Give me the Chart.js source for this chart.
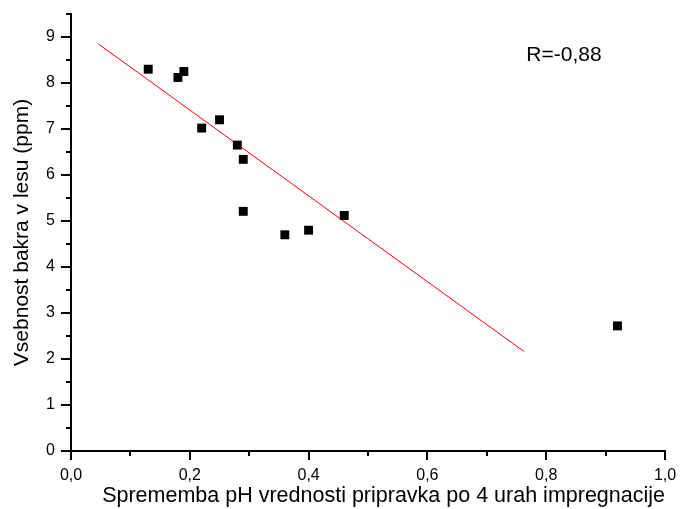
<!DOCTYPE html>
<html>
<head>
<meta charset="utf-8">
<script src="https://cdn.jsdelivr.net/npm/chart.js@4"></script>
<style>
  body { margin: 0; background: #fff; }
  #wrap { width: 680px; height: 509px; }
</style>
</head>
<body>
<div id="wrap"><canvas id="myChart"></canvas></div>
<script>
// Data
const phChange = [0.13, 0.18, 0.19, 0.22, 0.25, 0.28, 0.29, 0.29, 0.36, 0.40, 0.46, 0.92];
const copper = [8.30, 8.12, 8.25, 7.02, 7.20, 6.65, 6.34, 5.21, 4.70, 4.80, 5.12, 2.72];
const fitX = [0.046, 0.763];
const fitY = [8.85, 2.16];
const xTicks = ['0,0', '0,2', '0,4', '0,6', '0,8', '1,0'];
const yTicks = ['0', '1', '2', '3', '4', '5', '6', '7', '8', '9'];
const rLabel = 'R=-0,88';

const FONT = "'Liberation Sans', Arial, sans-serif";

// tick marks: long on labelled ticks, short on the rest
const tickMarks = {
  id: 'tickMarks',
  afterDraw(chart) {
    const ctx = chart.ctx;
    const area = chart.chartArea;
    ctx.save();
    ctx.strokeStyle = '#000';
    ctx.lineWidth = 2;
    chart.scales.x.ticks.forEach(function (t) {
      const px = Math.round(chart.scales.x.getPixelForValue(t.value));
      const len = t.label ? 9 : 5;
      ctx.beginPath();
      ctx.moveTo(px, area.bottom);
      ctx.lineTo(px, area.bottom + len);
      ctx.stroke();
    });
    chart.scales.y.ticks.forEach(function (t) {
      const py = Math.round(chart.scales.y.getPixelForValue(t.value));
      const len = t.label ? 10 : 5;
      ctx.beginPath();
      ctx.moveTo(area.left, py);
      ctx.lineTo(area.left - len, py);
      ctx.stroke();
    });
    // correlation label
    ctx.fillStyle = '#000';
    ctx.font = '21px ' + FONT;
    ctx.textAlign = 'center';
    ctx.textBaseline = 'middle';
    ctx.fillText(rLabel, chart.scales.x.getPixelForValue(0.83), chart.scales.y.getPixelForValue(8.6));
    ctx.restore();
  },
};

const data = {
  datasets: [
    {
      label: 'meritve',
      data: phChange.map((x, i) => ({ x: x, y: copper[i] })),
      pointStyle: 'rect',
      pointRadius: 6.3,
      pointBorderWidth: 0,
      backgroundColor: '#000',
      borderColor: '#000',
      order: 1,
    },
    {
      label: 'fit',
      type: 'line',
      data: fitX.map((x, i) => ({ x: x, y: fitY[i] })),
      borderColor: '#ff0000',
      borderWidth: 1,
      pointRadius: 0,
      fill: false,
      order: 2,
    },
  ],
};

const config = {
  type: 'scatter',
  data,
  options: {
    responsive: true,
    maintainAspectRatio: false,
    animation: false,
    layout: { padding: { left: 0, top: 14, right: 15, bottom: 0 } },
    plugins: {
      legend: { display: false },
      tooltip: { enabled: false },
    },
    scales: {
      x: {
        type: 'linear',
        min: 0,
        max: 1,
        afterFit: (s) => {
          s.height = 58;
          s.paddingLeft = 0;
          s.paddingRight = 0;
        },
        grid: { display: false, drawTicks: false },
        border: { display: true, color: '#000', width: 2 },
        ticks: {
          stepSize: 0.1,
          autoSkip: false,
          maxRotation: 0,
          padding: 15,
          color: '#000',
          font: { family: FONT, size: 16 },
          callback: function (v) {
            const k = Math.round(v * 10);
            return k % 2 === 0 ? xTicks[k / 2] : '';
          },
        },
        title: {
          display: true,
          text: 'Sprememba pH vrednosti pripravka po 4 urah impregnacije',
          align: 'end',
          color: '#000',
          font: { family: FONT, size: 21.5 },
          padding: { top: 0, bottom: 0 },
        },
      },
      y: {
        type: 'linear',
        min: 0,
        max: 9.5,
        afterFit: (s) => {
          s.width = 71;
          s.paddingTop = 0;
          s.paddingBottom = 0;
        },
        grid: { display: false, drawTicks: false },
        border: { display: true, color: '#000', width: 2 },
        ticks: {
          stepSize: 0.5,
          autoSkip: false,
          padding: 16,
          color: '#000',
          font: { family: FONT, size: 16 },
          callback: function (v) {
            const k = Math.round(v * 2);
            return k % 2 === 0 ? yTicks[k / 2] : '';
          },
        },
        title: {
          display: true,
          text: 'Vsebnost bakra v lesu (ppm)',
          color: '#000',
          font: { family: FONT, size: 21 },
          padding: { top: 10, bottom: 0 },
        },
      },
    },
  },
  plugins: [tickMarks],
};

const myChart = new Chart(document.getElementById('myChart'), config);
</script>
</body>
</html>
